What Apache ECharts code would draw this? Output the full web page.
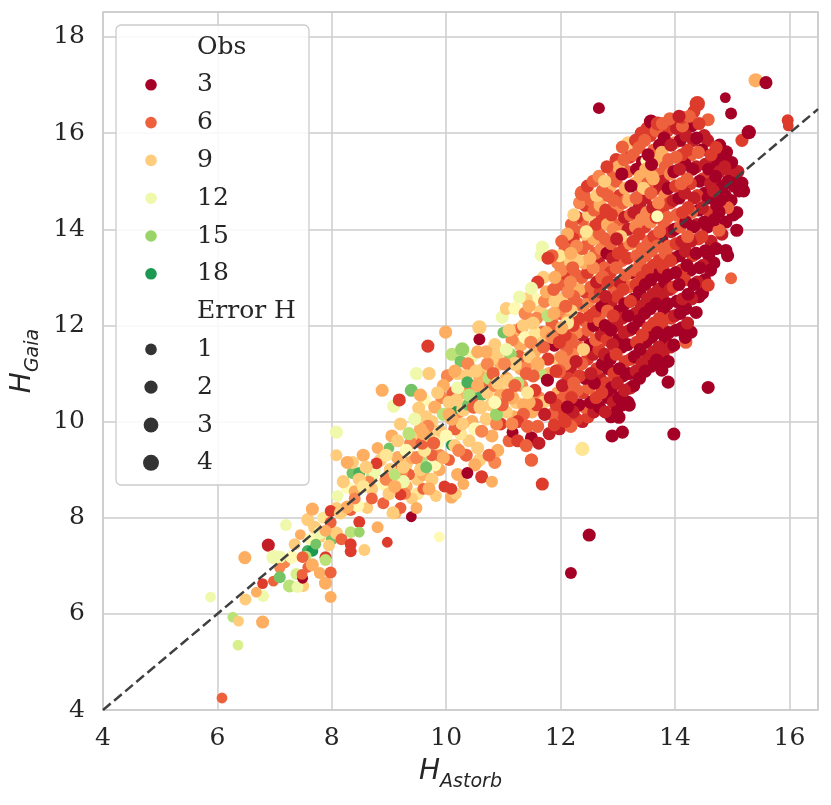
<!DOCTYPE html>
<html><head><meta charset="utf-8">
<script src="https://cdn.jsdelivr.net/npm/echarts@6/dist/echarts.min.js"></script>
<style>html,body{margin:0;padding:0;background:#fff}#c{width:831px;height:805px}</style>
</head><body><div id="c"></div><script>
// [H_Astorb, H_Gaia, Obs, Error H]
const tailPts = [
[5.88,6.35,12,1],[6.08,4.25,6,1],[6.36,5.35,13,1],[6.27,5.93,14,1],[6.37,5.85,9,1],
[6.49,6.30,9,1.5],[6.48,7.17,8,2],[6.68,6.45,8,1],[6.79,5.83,8,2],[6.80,6.37,12,1.5],
[6.79,6.63,5,1],[6.89,7.43,4,2],[6.98,7.18,12,2.5],[7.09,7.18,12,2],[6.98,6.68,6,1],
[7.09,6.95,7,1],[7.09,6.76,16,1.5],[7.20,7.85,12,1.5],[7.18,7.06,7,1],[7.30,7.18,11,2],
[7.26,6.58,14,2],[7.38,6.83,13,1.5],[7.40,6.56,12,1.5],[7.49,6.74,3,1],[7.48,6.82,6,1],
[7.50,6.58,9,1.5],[7.58,7.31,17,1.5],[7.66,7.31,18,1.5],[7.58,7.96,9,2],[7.66,8.18,8,2],
[7.49,7.18,6,1.5],[7.58,6.97,6,1],[7.66,7.02,8,2],[7.79,6.85,8,1.5],[7.89,6.64,8,2],
[7.98,6.35,8,1.5],[7.98,6.86,6,1.5],[7.89,7.18,5,1.5],[7.89,7.12,14,1.5],[7.79,7.68,12,2],
[7.89,7.73,8,1.5],[7.79,7.60,9,1.5],[7.35,7.45,9,1.5],[7.45,7.65,8,1],[7.62,7.55,11,1.5],
[7.70,7.80,9,2],[7.55,7.20,14,1],[7.95,7.42,9,1.5],[7.72,7.45,16,1],[7.85,8.00,10,1.5]
];
const bandLow = [
[8.00,7.55,16,1.5],[8.08,7.68,9,2],[7.98,7.90,6,1.5],[8.08,8.18,9,2.5],[7.98,8.14,5,1.5],
[8.15,8.10,9,2],[8.27,8.22,8,2],[8.17,8.10,11,1.5],[8.33,8.16,6,1.5],[8.48,7.91,5,1.5],
[8.33,7.70,14,1.5],[8.48,7.70,15,1],[8.17,7.55,6,1.5],[8.33,7.45,5,1.5],[8.33,7.30,5,1.5],
[8.57,7.33,9,1.5],[8.27,8.63,11,2],[8.36,8.93,16,1.5],[8.48,8.93,17,1.5],[8.36,9.15,9,2],
[8.27,9.15,8,2],[8.48,8.80,9,2],[8.78,9.13,5,1.5],[8.70,8.85,14,1.5],[8.70,8.60,9,2],
[8.70,8.40,6,1.5],[8.90,8.70,11,2],[8.90,8.30,6,1.5],[8.97,7.49,5,1],[8.80,7.80,8,1.5],
[9.07,8.10,9,2],[9.12,8.10,8,1.5],[9.20,8.20,6,1.5],[9.39,8.02,3,1],[9.48,8.20,8,1.5],
[9.88,7.60,11,1],[9.20,8.48,5,1.5],[9.00,8.50,9,2],[9.10,8.65,8,2],[9.30,8.65,8,2],
[9.50,8.80,9,2],[9.60,8.90,8,2],[9.75,8.80,9,2],[9.97,8.65,5,1.5],[10.09,8.43,8,2],
[10.17,8.50,9,1.5],[10.09,8.60,5,1.5],[9.88,9.00,8,2],[9.80,9.10,11,2],[9.57,9.15,14,2],
[8.08,9.78,12,2],[8.10,8.45,12,1.5],[8.20,8.75,9,2],[8.40,8.55,8,1.5],[8.55,8.65,10,2],
[8.60,9.05,9,2],[8.55,9.30,8,2],[8.62,8.20,9,1.5],[8.45,8.25,11,2],[8.75,8.95,12,2],
[8.85,9.20,9,2],[8.80,9.45,8,1.5],[8.95,9.30,10,2],[8.88,10.65,8,2],[9.08,10.32,12,2],
[9.18,10.45,5,2],[9.39,10.65,16,2],[9.02,9.00,9,2],[9.15,9.25,8,2],[9.10,8.90,14,1.5],
[9.25,9.05,9,2],[9.30,9.40,11,2],[9.40,9.25,8,2],[9.45,9.60,9,2.5],[9.35,8.90,6,1.5],
[9.55,9.00,9,2],[9.62,9.40,10,2],[9.70,9.70,9,2],[9.55,9.85,8,2],[9.45,10.05,12,2],
[9.65,10.10,9,2],[9.75,9.30,6,1.5],[9.85,9.55,11,2],[9.90,9.80,9,2],[9.80,10.30,8,2],
[9.95,10.15,14,2],[9.95,9.25,8,2],[9.70,8.60,8,2],[9.82,8.45,9,1.5],[9.50,8.50,10,2],
[9.40,8.40,9,1.5],[9.60,8.60,6,1.5],[9.25,8.75,12,2],[9.65,9.05,16,1.5],[9.35,9.75,14,2],
[9.15,9.60,9,2],[9.05,9.70,8,2],[9.20,9.95,9,2],[9.00,9.45,16,1],[9.48,11.00,12,2],
[9.70,11.00,9,2],[9.68,11.57,5,2],[9.99,11.86,8,2],[9.85,10.60,9,2],[9.62,10.45,11,2],
[9.52,10.28,9,2],[8.08,9.30,9,1.5],
[9.22,8.95,7,2],[9.38,9.55,7,2],[9.58,9.55,6,2],[9.68,9.90,7,2],[9.78,9.55,6,2],
[9.92,10.50,7,2],[9.88,9.30,7,2],[9.48,9.25,7,2],[9.28,8.50,7,1.5],[8.95,8.80,7,2],
[8.65,8.75,7,1.5],[8.40,8.40,7,1.5]
];
const bandMid = [
[10.28,11.50,15,2.5],[10.10,11.40,14,2],[10.58,11.96,9,2.5],[10.58,11.71,3,1.5],[10.98,12.17,12,2],
[10.05,10.40,9,2],[10.10,10.05,8,2],[10.00,9.70,11,2],[10.15,9.50,9,2],[10.05,9.20,6,1.5],
[10.20,8.90,8,2],[10.25,9.75,10,2],[10.30,10.25,9,2.5],[10.20,10.70,12,2],[10.35,10.95,9,2],
[10.15,11.05,8,2],[10.40,10.55,14,2],[10.45,10.00,8,2],[10.40,9.60,9,2],[10.35,9.30,6,2],
[10.50,9.10,8,2],[10.55,9.45,9,2],[10.50,9.85,11,2],[10.60,10.30,9,2.5],[10.55,10.75,8,2],
[10.65,11.10,9,2],[10.45,11.35,12,2],[10.70,11.45,8,2],[10.75,10.90,14,2],[10.70,10.05,9,2],
[10.80,9.70,8,2],[10.75,9.30,6,2],[10.85,10.40,11,2],[10.90,10.80,9,2],[10.95,11.20,8,2],
[10.85,11.60,9,2],[10.95,9.95,5,2],[10.90,9.40,8,2],[11.00,10.60,9,2],[10.30,8.70,8,1.5],
[10.62,8.85,5,2],[10.80,8.75,8,1.5],[10.25,11.25,16,1.5],[10.62,10.55,17,1.5],[10.12,10.25,18,1],
[10.38,10.35,16,1.5],[10.88,10.15,15,2],[10.37,10.82,17,1.5],[10.09,9.51,18,1],[10.37,8.93,3,1.5],
[10.02,10.95,7,2],[10.12,10.60,6,2],[10.22,10.20,7,2],[10.28,9.95,9,2],[10.42,10.75,7,2],
[10.48,10.30,6,2],[10.52,11.05,9,2],[10.62,9.80,7,2],[10.68,10.70,6,2],[10.72,11.20,7,2],
[10.78,10.35,9,2],[10.82,11.00,6,2],[10.88,9.95,7,2],[10.92,11.45,9,2],[10.98,10.35,6,2],
[10.22,9.40,7,2],[10.58,9.20,9,2],[10.38,11.20,7,2],[10.15,9.85,6,2],[10.85,9.15,7,2]
];
const bandHigh = [
[11.05,10.20,9,2],[11.05,10.90,8,2],[11.05,11.50,12,2],[11.10,11.90,9,2],[11.10,9.60,6,2],
[11.15,10.50,8,2.5],[11.16,9.78,3,1.5],[11.20,11.20,9,2.5],[11.20,12.35,11,2],[11.25,10.00,5,2],
[11.28,12.59,12,2],[11.25,10.80,14,2],[11.30,11.60,8,2.5],[11.35,12.00,9,2],[11.35,10.35,8,2],
[11.40,9.50,6,2],[11.40,11.00,6,2],[11.45,11.35,9,2],[11.45,12.40,8,2],[11.49,12.77,12,2],
[11.49,9.66,3,2],[11.49,9.20,6,2],[11.50,10.20,8,2],[11.55,10.65,5,2],[11.55,11.85,10,2],
[11.60,12.90,5,2],[11.60,11.20,8,2.5],[11.60,9.90,6,2],[11.65,12.30,9,2],[11.68,13.63,12,2],
[11.68,8.70,5,2],[11.70,10.40,9,2],[11.70,11.55,6,2],[11.75,12.70,8,2],[11.77,10.86,3,2],
[11.78,13.40,5,2],[11.80,11.00,8,2],[11.80,9.75,4,2],[11.85,12.05,6,2],[11.85,10.15,6,2],
[11.89,11.59,3,2],[11.89,9.93,5,2],[11.90,12.50,9,2],[11.90,13.00,8,2],[11.95,10.60,8,2],
[11.95,11.30,9,2],[11.95,11.85,6,2],[11.12,11.40,15,2],[11.38,11.75,11,2],[11.65,11.00,14,1.5],
[11.78,12.20,14,2],[11.42,10.60,10,2],[11.22,10.40,9,2],[11.32,11.95,6,2],[11.55,12.55,11,2],
[11.70,13.00,9,2],[11.05,12.35,9,2],[11.00,11.85,16,1.5],[11.66,13.46,12,2],
[11.02,11.20,7,2],[11.08,10.55,6,2],[11.15,11.70,7,2],[11.18,10.10,8,2],[11.28,11.35,6,2],
[11.32,10.75,7,2],[11.38,12.25,7,2],[11.42,9.90,6,2],[11.48,11.65,7,2],[11.52,10.95,6,2],
[11.58,12.15,7,2],[11.62,10.50,7,2],[11.68,11.85,6,2],[11.72,12.50,7,2],[11.78,11.30,5,2],
[11.82,10.50,4,2],[11.88,12.75,6,2],[11.92,11.05,5,2],[11.98,12.30,7,2],[11.95,13.30,7,2],
[11.25,9.60,5,2],[11.62,9.55,4,2],[11.85,13.45,6,2],[11.40,12.55,9,2]
];
const bandFill = [
[10.05,10.15,8,2],[10.18,10.45,9,2],[10.32,10.60,8,2],[10.45,10.50,6,2],[10.58,10.95,8,2],
[10.72,10.60,9,2],[10.85,10.75,7,2],[10.95,10.55,8,2],[11.08,10.85,9,2],[11.20,10.75,6,2],
[11.30,11.10,8,2],[11.42,11.20,7,2],[11.55,11.45,8,2],[11.65,11.65,9,2],[11.75,11.85,8,2],
[11.85,11.75,7,2],[11.88,12.25,8,2],[11.52,12.05,9,2],[11.22,11.90,8,2],[10.80,11.30,9,2],
[10.55,11.45,8,2],[10.20,11.00,9,2],[9.95,10.75,8,2],[9.75,10.00,9,2],[9.55,10.55,8,2],
[9.60,9.75,8,2],[9.30,9.10,9,2],[9.15,9.00,6,2],[11.35,10.15,6,2],[11.58,10.35,5,2],
[11.72,10.15,4,2],[11.92,10.35,5,2],[11.45,10.40,8,2],[11.15,9.95,7,2]
];
const cloudLo = [
[11.98,9.85,4,2],[12.02,10.15,5,2],[11.99,10.45,6,2],[12.03,10.75,4,2],[11.97,11.05,6,2.5],[12.01,11.35,7,2],[11.98,11.65,5,2],[12.02,11.95,8,2],[11.99,12.25,6,2],[12.03,12.55,9,2],[11.97,12.85,6,2],[12.01,13.15,7,2],[11.98,13.45,10,2],[12.02,13.75,6,2],
[12.08,10.00,5,2],[12.12,10.30,3,2],[12.09,10.60,6,2],[12.13,10.90,5,2],[12.07,11.20,7,2.5],[12.11,11.50,6,2],[12.08,11.80,5,2],[12.12,12.10,8,2],[12.09,12.40,6,2],[12.13,12.70,7,2],[12.07,13.00,5,2],[12.11,13.30,9,2],[12.08,13.60,6,2],[12.12,13.90,8,2],
[12.18,9.90,6,2],[12.22,10.20,4,2],[12.19,10.50,5,2],[12.23,10.80,6,2],[12.17,11.10,4,2],[12.21,11.40,7,2],[12.18,11.70,6,2.5],[12.22,12.00,5,2],[12.19,12.30,9,2],[12.23,12.60,6,2],[12.17,12.90,7,2],[12.21,13.20,6,2],[12.18,13.50,8,2],[12.22,13.80,5,2],[12.19,14.10,6,2],[12.23,14.30,9,2],
[12.28,10.05,5,2],[12.32,10.35,3,2],[12.29,10.65,6,2],[12.33,10.95,5,2],[12.27,11.25,4,2],[12.31,11.55,6,2],[12.28,11.85,7,2],[12.32,12.15,5,2],[12.29,12.45,6,2.5],[12.33,12.75,8,2],[12.27,13.05,6,2],[12.31,13.35,9,2],[12.28,13.65,7,2],[12.32,13.95,6,2],[12.29,14.25,5,2],[12.33,14.55,7,2],
[12.38,10.00,4,2],[12.42,10.30,6,2],[12.39,10.60,5,2],[12.43,10.90,3,2],[12.37,11.20,6,2],[12.41,11.50,5,2],[12.38,11.80,4,2],[12.42,12.10,6,2],[12.39,12.40,7,2],[12.43,12.70,5,2],[12.37,13.00,6,2],[12.41,13.30,8,2],[12.38,13.60,6,2],[12.42,13.90,9,2],[12.39,14.20,6,2],[12.43,14.50,5,2],[12.38,14.75,6,3],
[12.48,10.10,5,2],[12.52,10.40,3,2],[12.49,10.70,6,2],[12.53,11.00,4,2],[12.47,11.30,5,2],[12.51,11.60,3,2],[12.48,11.90,6,2],[12.52,12.20,5,2.5],[12.49,12.50,7,2],[12.53,12.80,6,2],[12.47,13.10,5,2],[12.51,13.40,8,2],[12.48,13.70,6,2],[12.52,14.00,7,2],[12.49,14.30,9,2],[12.53,14.60,6,2],[12.47,14.90,5,2],
[12.58,10.20,4,2],[12.62,10.50,5,2],[12.59,10.80,3,2],[12.63,11.10,5,2],[12.57,11.40,4,2],[12.61,11.70,6,2],[12.58,12.00,3,2],[12.62,12.30,5,2],[12.59,12.60,6,2],[12.63,12.90,4,2],[12.57,13.20,7,2],[12.61,13.50,6,2],[12.58,13.80,8,2],[12.62,14.10,5,2],[12.59,14.40,6,2],[12.63,14.70,9,2],[12.57,15.00,6,2],
[12.68,10.30,3,2],[12.72,10.60,5,2],[12.69,10.90,4,2],[12.73,11.20,3,2],[12.67,11.50,5,2],[12.71,11.80,4,2],[12.68,12.10,6,2],[12.72,12.40,3,2],[12.69,12.70,5,2],[12.73,13.00,6,2.5],[12.67,13.30,4,2],[12.71,13.60,7,2],[12.68,13.90,6,2],[12.72,14.20,5,2],[12.69,14.50,8,2],[12.73,14.80,6,2],[12.67,15.10,7,2],
[12.78,10.20,4,2],[12.82,10.50,3,2],[12.79,10.80,5,2],[12.83,11.10,3,2],[12.77,11.40,4,2],[12.81,11.70,5,2],[12.78,12.00,3,2],[12.82,12.30,6,2],[12.79,12.60,4,2],[12.83,12.90,5,2],[12.77,13.20,6,2],[12.81,13.50,3,2],[12.78,13.80,6,2],[12.82,14.10,8,2],[12.79,14.40,5,2],[12.83,14.70,6,2],[12.77,15.00,9,2],[12.81,15.30,5,2],
[12.88,10.10,3,2],[12.92,10.40,4,2],[12.89,10.70,3,2],[12.93,11.00,5,2],[12.87,11.30,3,2],[12.91,11.60,4,2],[12.88,11.90,3,2],[12.92,12.20,5,2],[12.89,12.50,4,2],[12.93,12.80,6,2],[12.87,13.10,5,2],[12.91,13.40,4,2],[12.88,13.70,6,2],[12.92,14.00,7,2],[12.89,14.30,5,2],[12.93,14.60,6,2],[12.87,14.90,8,2],[12.91,15.20,6,2],[12.97,15.45,5,2],
[12.98,10.20,3,2],[13.02,10.50,3,2],[12.99,10.80,4,2],[13.03,11.10,3,2],[12.97,11.40,5,2],[13.01,11.70,3,2],[12.98,12.00,4,2],[13.02,12.30,3,2],[12.99,12.60,5,2],[13.03,12.90,4,2],[12.97,13.20,6,2],[13.01,13.50,5,2],[12.98,13.80,4,2],[13.02,14.10,6,2],[12.99,14.40,7,2],[13.03,14.70,5,2],[12.97,15.00,6,2],[13.01,15.30,8,2],[13.08,15.71,6,2]
];
const cloudMid = [
[13.08,10.35,3,2],[13.12,10.65,4,2],[13.09,10.95,3,2],[13.13,11.25,5,2],[13.07,11.55,3,2],[13.11,11.85,4,2],[13.08,12.15,4,2],[13.12,12.45,3,2],[13.09,12.75,5,2],[13.13,13.05,6,2],[13.07,13.35,6,2],[13.11,13.65,5,2],[13.08,13.95,7,2],[13.12,14.25,4,2],[13.09,14.55,6,2],[13.13,14.85,8,2],[13.07,15.15,3,2],[13.11,15.45,6,2],
[13.18,10.40,3,2],[13.22,10.70,4,2],[13.19,11.00,3,2],[13.23,11.30,5,2],[13.17,11.60,3,2],[13.21,11.90,4,2],[13.18,12.20,3,2],[13.22,12.50,5,2],[13.19,12.80,6,2],[13.23,13.10,3,2],[13.17,13.40,5,2],[13.21,13.70,7,2],[13.18,14.00,4,2],[13.22,14.30,6,2],[13.19,14.60,8,2],[13.23,14.90,3,2],[13.17,15.20,6,2],[13.21,15.50,5,2],[13.18,15.80,9,2],
[13.28,10.75,3,2],[13.32,11.05,4,2],[13.29,11.35,3,2],[13.33,11.65,5,2],[13.27,11.95,3,2],[13.31,12.25,4,2],[13.28,12.55,3,2],[13.32,12.85,5,2],[13.29,13.15,6,2],[13.33,13.45,6,2],[13.27,13.75,5,2],[13.31,14.05,7,2],[13.28,14.35,4,2],[13.32,14.65,6,2],[13.29,14.95,8,2],[13.33,15.25,3,2],[13.27,15.55,6,2],[13.31,15.85,5,2],
[13.38,10.90,3,2],[13.42,11.20,4,2],[13.39,11.50,3,2],[13.43,11.80,5,2],[13.37,12.10,3,2],[13.41,12.40,4,2],[13.38,12.70,3,2],[13.42,13.00,5,2],[13.39,13.30,6,2],[13.43,13.60,6,2],[13.37,13.90,5,2],[13.41,14.20,7,2],[13.38,14.50,4,2],[13.42,14.80,6,2],[13.39,15.10,8,2],[13.43,15.40,3,2],[13.49,15.43,11,1],[13.37,15.70,6,2],[13.41,16.00,5,2],
[13.48,11.05,3,2],[13.52,11.35,4,2],[13.49,11.65,3,2],[13.53,11.95,5,2],[13.47,12.25,3,2],[13.51,12.55,4,2],[13.48,12.85,3,2],[13.52,13.15,5,2],[13.49,13.45,6,2],[13.53,13.75,6,2],[13.47,14.05,5,2],[13.51,14.35,7,2],[13.48,14.65,4,2],[13.52,14.95,6,2],[13.49,15.25,8,2],[13.53,15.55,3,2],[13.47,15.85,6,2],[13.51,16.10,5,2],
[13.58,11.15,3,2],[13.62,11.45,4,2],[13.59,11.75,3,2],[13.63,12.05,5,2],[13.57,12.35,3,2],[13.61,12.65,4,2],[13.58,12.95,3,2],[13.62,13.25,5,2],[13.59,13.55,6,2],[13.63,13.85,5,2],[13.57,14.15,7,2],[13.61,14.45,4,2],[13.58,14.75,6,2],[13.62,15.05,8,2],[13.59,15.35,3,2],[13.63,15.65,6,2],[13.57,15.95,5,2],[13.58,16.24,3,2.5],
[13.68,11.28,3,2],[13.72,11.55,4,2],[13.69,11.85,3,2],[13.73,12.15,5,2],[13.67,12.45,3,2],[13.71,12.75,4,2],[13.68,13.05,3,2],[13.72,13.35,5,2],[13.69,13.65,6,2],[13.73,13.95,6,2],[13.67,14.25,5,2],[13.69,14.27,11,1.5],[13.71,14.55,7,2],[13.68,14.85,4,2],[13.72,15.15,6,2],[13.69,15.45,8,2],[13.73,15.75,3,2],[13.67,16.05,6,2],[13.70,16.20,5,2.5],
[13.88,10.82,3,2],[13.77,11.07,3,2],[13.79,11.40,4,2],[13.83,11.70,3,2],[13.77,12.00,5,2],[13.81,12.30,3,2],[13.78,12.60,4,2],[13.82,12.90,3,2],[13.79,13.20,5,2],[13.83,13.50,6,2],[13.77,13.80,3,2],[13.81,14.10,6,2],[13.78,14.40,5,2],[13.82,14.70,7,2],[13.79,15.00,4,2],[13.83,15.30,6,2],[13.77,15.60,8,2],[13.81,15.90,3,2],[13.78,16.20,6,2],
[13.88,11.25,3,2],[13.92,11.55,4,2],[13.89,11.85,3,2],[13.93,12.15,5,2],[13.87,12.45,3,2],[13.91,12.75,4,2],[13.88,13.05,3,2],[13.92,13.35,5,2],[13.89,13.65,6,2],[13.93,13.95,4,2],[13.87,14.25,6,2],[13.91,14.55,5,2],[13.88,14.85,3,2],[13.92,15.15,7,2],[13.89,15.45,6,2],[13.93,15.75,4,2],[13.87,16.05,5,2],[13.91,16.30,6,2],
[13.98,11.59,3,2],[14.02,11.90,3,2],[13.99,12.20,4,2],[14.03,12.50,3,2],[13.97,12.80,5,2],[14.01,13.10,3,2],[13.98,13.40,4,2],[14.02,13.70,5,2],[13.99,14.00,3,2],[14.03,14.30,6,2],[13.97,14.60,4,2],[14.01,14.90,5,2],[13.98,15.20,3,2],[14.02,15.50,6,2],[13.99,15.80,7,2],[14.03,16.10,4,2],[14.12,16.33,5,2]
];
const cloudHi = [
[14.19,11.65,6,2],[14.12,11.95,3,2],[14.09,12.25,3,2],[14.13,12.55,4,2],[14.07,12.85,3,2],[14.11,13.15,5,2],[14.08,13.45,3,2],[14.12,13.75,4,2],[14.09,14.05,6,2],[14.13,14.35,5,2],[14.07,14.65,3,2],[14.11,14.95,6,2],[14.08,15.25,4,2],[14.12,15.55,5,2],[14.09,15.85,3,2],[14.13,16.15,6,2],[14.07,16.35,4,2],
[14.18,11.75,3,2],[14.22,12.05,4,2],[14.19,12.35,3,2],[14.23,12.65,3,2],[14.17,12.95,5,2],[14.21,13.25,3,2],[14.18,13.55,4,2],[14.22,13.85,6,2],[14.19,14.15,3,2],[14.23,14.45,5,2],[14.17,14.75,4,2],[14.21,15.05,6,2],[14.18,15.35,3,2],[14.22,15.65,5,2],[14.19,15.95,4,2],[14.25,16.35,6,2],
[14.28,11.86,3,2],[14.37,12.27,3,2],[14.29,12.55,4,2],[14.33,12.85,3,2],[14.27,13.15,3,2],[14.31,13.45,5,2],[14.28,13.75,4,2],[14.32,14.05,3,2],[14.29,14.35,6,2],[14.33,14.65,4,2],[14.27,14.95,5,2],[14.31,15.25,3,2],[14.28,15.55,6,2],[14.32,15.85,4,2],[14.29,16.15,3,2],[14.33,16.45,5,2],
[14.42,12.60,3,2],[14.39,12.90,4,2],[14.43,13.20,3,2],[14.37,13.50,3,2],[14.41,13.80,5,2],[14.38,14.10,4,2],[14.42,14.40,3,2],[14.39,14.70,5,2],[14.43,15.00,3,2],[14.37,15.30,4,2],[14.41,15.60,6,2],[14.38,15.90,3,2],[14.42,16.20,5,2],[14.39,16.61,5,3],
[14.48,12.67,3,2],[14.52,12.95,3,2],[14.49,13.25,4,2],[14.53,13.55,3,2],[14.47,13.85,5,2],[14.51,14.15,3,2],[14.48,14.45,4,2],[14.52,14.75,3,2],[14.49,15.05,5,2],[14.53,15.35,4,2],[14.47,15.65,3,2],[14.51,15.95,4,2],[14.58,16.28,6,2],
[14.58,12.84,5,2],[14.62,13.15,3,2],[14.59,13.45,3,2],[14.63,13.75,4,2],[14.57,14.05,3,2],[14.61,14.35,5,2],[14.58,14.65,3,2],[14.62,14.95,4,2],[14.59,15.25,3,2],[14.63,15.55,5,2],[14.57,15.85,4,2],
[14.68,13.30,3,2],[14.72,13.60,3,2],[14.77,13.98,6,2],[14.69,14.20,3,2],[14.73,14.50,3,2],[14.67,14.80,4,2],[14.71,15.10,3,2],[14.68,15.40,3,2],[14.72,15.70,5,2],
[14.89,13.56,3,2],[14.82,13.90,4,2],[14.77,14.36,3,2],[14.79,14.60,3,2],[14.83,14.90,3,2],[14.78,15.20,4,2],[14.82,15.50,3,2],[14.78,15.75,3,2],
[14.92,13.45,3,2],[14.89,14.15,3,2],[14.92,14.45,6,2],[14.88,14.70,3,2],[14.93,15.00,3,2],[14.87,15.30,4,2],[14.89,15.60,3,2.5],
[14.98,12.98,6,1.5],[15.02,14.30,3,2],[14.98,14.60,3,2],[15.03,14.90,3,2],[14.97,15.20,4,2],[14.99,15.39,3,2],
[15.08,13.98,3,2],[15.08,14.35,3,2],[15.12,14.80,3,2],[15.07,15.00,3,2],[15.10,15.20,4,2],
[15.20,14.80,3,2],[15.17,14.96,3,2],[15.17,15.85,5,2],[15.29,16.02,3,2.5],[14.98,16.41,3,1.5],[14.88,16.74,3,1],[14.58,10.71,3,2]
];
const cloudLight = [
[12.25,12.75,11,2],[12.45,13.95,10,2],[12.60,13.05,12,1.5],[12.12,12.05,10,2],[12.40,11.50,9,2],
[12.70,14.25,10,2],[12.30,13.45,11,1.5],[12.55,10.60,9,2],[13.30,14.10,9,2],[13.15,14.60,10,1.5],
[13.45,14.85,9,2],[13.60,15.10,8,2],[13.05,13.85,9,2],[13.20,12.90,8,2],[13.35,13.55,9,1.5]
];
const outliers = [
[12.90,9.70,3,2],[13.08,9.78,3,2],[12.38,9.43,10,2.5],[12.67,16.52,3,1.5],[12.18,6.85,3,1.5],
[12.50,7.64,3,2],[13.98,9.74,3,2],[13.20,10.34,3,2],[13.02,10.09,3,2],[11.49,9.20,6,2],
[15.41,17.10,8,2.5],[15.59,17.05,3,2],[15.97,16.27,5,1.5],[15.98,16.15,5,1]
];
const diagEnds = [4, 16.5];
const xTicks = [4, 6, 8, 10, 12, 14, 16];
const yTicks = [4, 6, 8, 10, 12, 14, 16, 18];
const obsLegend = [3, 6, 9, 12, 15, 18];
const errLegend = [1, 2, 3, 4];

const RDYLGN = ['#a50026','#d73027','#f46d43','#fdae61','#fee08b','#ffffbf','#d9ef8b','#a6d96a','#66bd63','#1a9850','#006837'];
function hex2rgb(h){return [parseInt(h.substr(1,2),16),parseInt(h.substr(3,2),16),parseInt(h.substr(5,2),16)];}
function obsColor(o){
  let t=(o-3)/16.7; t=Math.max(0,Math.min(1,t));
  const p=t*10, i=Math.min(9,Math.floor(p)), f=p-i;
  const a=hex2rgb(RDYLGN[i]), b=hex2rgb(RDYLGN[i+1]);
  return 'rgb('+a.map((v,k)=>Math.round(v+(b[k]-v)*f)).join(',')+')';
}
function errSize(e){return 8.5+2.3*e;}

const all = [].concat(tailPts, bandLow, bandMid, bandHigh, bandFill, cloudLo, cloudMid, cloudHi, cloudLight, outliers);
// deterministic shuffle of drawing order (values untouched)
const N = all.length; let k = 97;
function gcd(a,b){return b?gcd(b,a%b):a;}
while(gcd(k,N)!==1) k++;
const ordered = [];
for(let i=0;i<N;i++) ordered.push(all[(i*k)%N]);

const serif = 'DejaVu Serif';
const txt = '#262626';
const chart = echarts.init(document.getElementById('c'));

const gEls = [];
gEls.push({type:'rect', shape:{x:116,y:25,width:193,height:460,r:5},
  style:{fill:'rgba(255,255,255,0.85)',stroke:'#cccccc',lineWidth:1.3}, z:100});
const rowY = i => 47 + i*37.8;
let row = 0;
const lblStyle = t => ({text:t, font:'25px "DejaVu Serif"', fill:txt, verticalAlign:'middle', textVerticalAlign:'middle'});
gEls.push({type:'text', x:197, y:rowY(row), style:lblStyle('Obs'), z:101});
row++;
obsLegend.forEach(o=>{
  gEls.push({type:'circle', shape:{cx:151, cy:rowY(row), r:5.8}, style:{fill:obsColor(o)}, z:101});
  gEls.push({type:'text', x:197, y:rowY(row), style:lblStyle(String(o)), z:101});
  row++;
});
gEls.push({type:'text', x:197, y:rowY(row), style:lblStyle('Error H'), z:101});
row++;
const errR = [5.8, 6.6, 7.4, 8.0];
errLegend.forEach((e,j)=>{
  gEls.push({type:'circle', shape:{cx:151, cy:rowY(row), r:errR[j]}, style:{fill:'#333333'}, z:101});
  gEls.push({type:'text', x:197, y:rowY(row), style:lblStyle(String(e)), z:101});
  row++;
});

const nameRich = {
  h:{fontFamily:'DejaVu Sans', fontStyle:'italic', fontSize:28, color:txt, verticalAlign:'bottom', padding:[0,0,6,0]},
  s:{fontFamily:'DejaVu Sans', fontStyle:'italic', fontSize:19, color:txt, verticalAlign:'bottom'}
};

chart.setOption({
  animation:false,
  backgroundColor:'#ffffff',
  grid:{left:103, right:13, top:12, bottom:95, show:true, borderColor:'#cccccc', borderWidth:1.5, containLabel:false},
  xAxis:{type:'value', min:4, max:16.5, interval:2,
    axisLine:{show:false}, axisTick:{show:false},
    splitLine:{lineStyle:{color:'#cccccc', width:1.5}},
    axisLabel:{fontFamily:serif, fontSize:25, color:txt, margin:16,
      formatter:v=> xTicks.indexOf(v)>=0 ? String(v) : ''},
    name:'{h|H}{s|Astorb}', nameLocation:'middle', nameGap:48,
    nameTextStyle:{rich:nameRich}},
  yAxis:{type:'value', min:4, max:18.52, interval:2,
    axisLine:{show:false}, axisTick:{show:false},
    splitLine:{lineStyle:{color:'#cccccc', width:1.5}},
    axisLabel:{fontFamily:serif, fontSize:25, color:txt, margin:18,
      formatter:v=> yTicks.indexOf(v)>=0 ? String(v) : ''},
    name:'{h|H}{s|Gaia}', nameLocation:'middle', nameGap:58, nameRotate:90,
    nameTextStyle:{rich:nameRich}},
  series:[
    {type:'scatter', data:ordered, silent:true, large:false,
     symbolSize:v=>errSize(v[3]),
     itemStyle:{color:p=>obsColor(p.value[2]), opacity:1},
     z:2},
    {type:'line', data:[[diagEnds[0],diagEnds[0]],[diagEnds[1],diagEnds[1]]], symbol:'none', silent:true,
     lineStyle:{color:'#404040', width:2.5, type:[10,4.5]}, z:5}
  ],
  graphic:gEls
});
</script></body></html>
